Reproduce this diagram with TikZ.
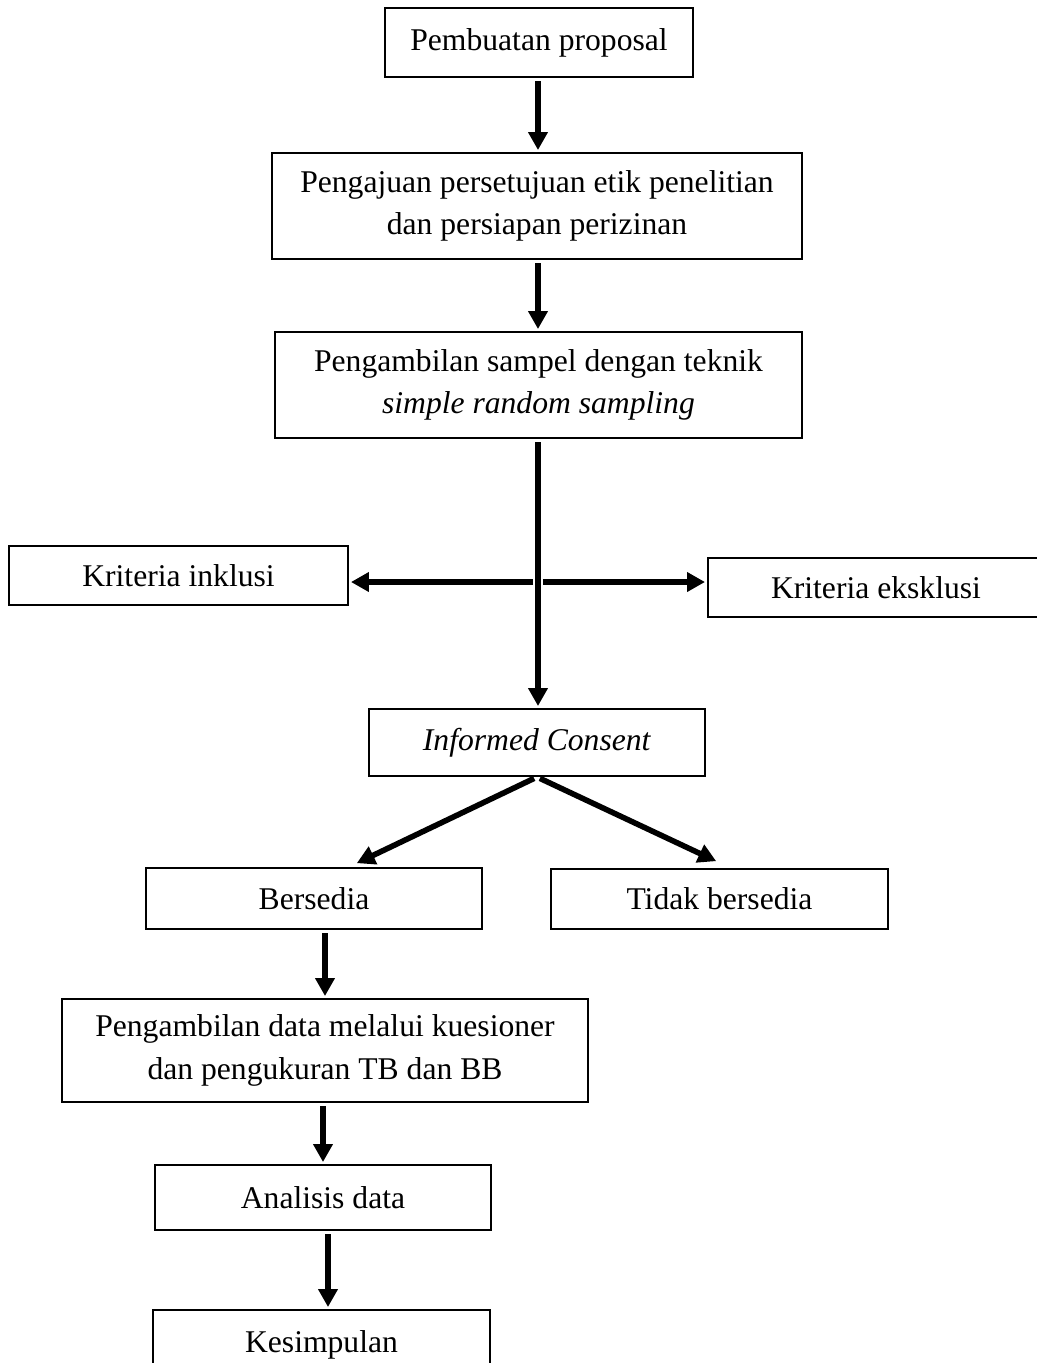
\documentclass[tikz,border=0pt]{standalone}
\usepackage{fontspec}
\setmainfont{Liberation Serif}
\usepackage{tikz}
\usetikzlibrary{arrows.meta}
\usetikzlibrary{positioning}
\tikzset{
    kotak/.style = {rectangle, draw, line width=1.4pt, inner sep=0pt, font=\fontsize{22.5}{30}\selectfont},
    dualbaris/.style = {kotak, align=center},
    panah/.style = {line width=0.17cm, -{Triangle[width=0.47cm, length=0.45cm]}, shorten <=0.08cm, shorten >=0.05cm},
    >=Latex
}

\begin{document}
\begin{tikzpicture}
                \useasboundingbox (0,0) rectangle (25.925,-34.075);
                \node (prop) [kotak, minimum width=7.7cm, minimum height=1.725cm] at (13.475, -1.0625) {Pembuatan proposal};
                \node (etik) [dualbaris, minimum width=13.25cm, minimum height=2.65cm] at (13.425, -5.15)
                    {Pengajuan persetujuan etik penelitian\\dan persiapan perizinan};
                \node (sampel) [dualbaris, minimum width=13.175cm, minimum height=2.65cm] at (13.4625, -9.625)
                    {Pengambilan sampel dengan teknik\\\textit{simple random sampling}};
                \node (inklusi) [kotak, minimum width=8.475cm, minimum height=1.475cm] at (4.4625, -14.3875) {Kriteria inklusi};
                \node (eksklusi) [kotak, minimum width=8.4cm, minimum height=1.475cm] at (21.9, -14.6875) {Kriteria eksklusi};
                \node (consent) [kotak, minimum width=8.4cm, minimum height=1.675cm] at (13.425, -18.5625) {\textit{Informed Consent}};
                \node (bersedia) [kotak, minimum width=8.4cm, minimum height=1.525cm] at (7.85, -22.4625) {Bersedia};
                \node (tidak) [kotak, minimum width=8.425cm, minimum height=1.5cm] at (17.9875, -22.475) {Tidak bersedia};
                \node (data) [dualbaris, minimum width=13.15cm, minimum height=2.575cm] at (8.125, -26.2625)
                    {Pengambilan data melalui kuesioner\\dan pengukuran TB dan BB};
                \node (analisis) [kotak, minimum width=8.4cm, minimum height=1.625cm] at (8.075, -29.9375) {Analisis data};
                \node (kesimpulan) [kotak, minimum width=8.425cm, minimum height=1.75cm] at (8.0375, -33.625) {Kesimpulan};
                \coordinate (simpang) at (13.45, -14.55);
                \coordinate (kiri) at (8.875, -21.6);
                \coordinate (kanan) at (17.95, -21.55);
                \draw[panah] (prop.south -| simpang) -- (etik.north -| simpang);
                \draw[panah] (etik.south -| simpang) -- (sampel.north -| simpang);
                \draw[panah] (sampel.south -| simpang) -- (consent.north -| simpang);
                \draw[panah, shorten <=0.12cm] (simpang) -- (simpang -| inklusi.east);
                \draw[panah, shorten <=0.12cm] (simpang) -- (simpang -| eksklusi.west);
                \draw[panah, line width=0.14cm] (consent.south) -- (kiri);
                \draw[panah, line width=0.14cm] (consent.south) -- (kanan);
                \draw[panah] (data.north |- bersedia.south) -- (data.north);
                \draw[panah] (analisis.north |- data.south) -- (analisis.north);
                \draw[panah] (analisis.south) ++(0.125,0) coordinate (turun) (turun) -- (turun |- kesimpulan.north);
            \end{tikzpicture}
\end{document}
